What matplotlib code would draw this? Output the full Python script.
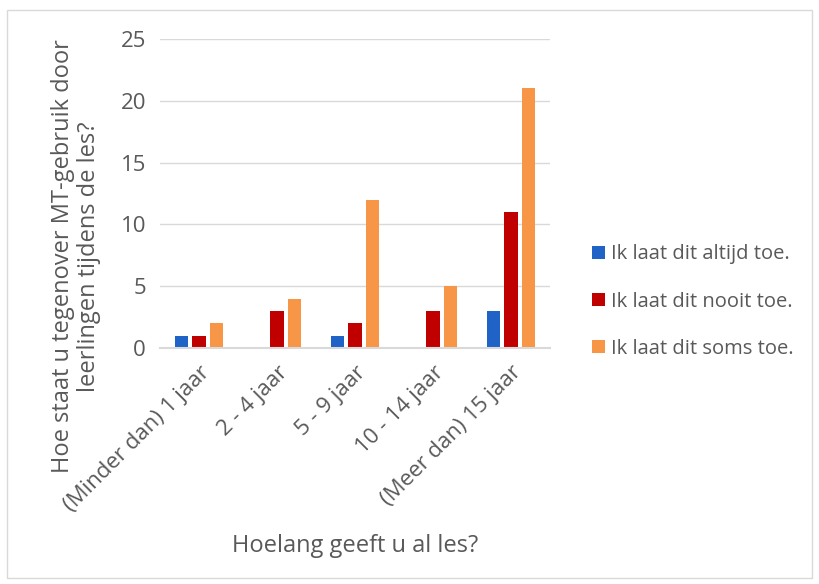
import numpy as np
import matplotlib.pyplot as plt
from matplotlib.patches import Rectangle

categories = ['(Minder dan) 1 jaar', '2 - 4 jaar', '5 - 9 jaar', '10 - 14 jaar', '(Meer dan) 15 jaar']
altijd = [1, 0, 1, 0, 3]
nooit = [1, 3, 2, 3, 11]
soms = [2, 4, 12, 5, 21]
series_names = ['Ik laat dit altijd toe.', 'Ik laat dit nooit toe.', 'Ik laat dit soms toe.']
colors = ['#1F63C6', '#C00000', '#F79646']

plt.rcParams['font.family'] = ['Open Sans', 'DejaVu Sans']
text_color = '#595959'

fig = plt.figure(figsize=(8.19, 5.84), dpi=100)
fig.patches.append(Rectangle((7 / 819, 6 / 584), 805 / 819, 568 / 584,
                             transform=fig.transFigure, fill=False,
                             edgecolor='#D9D9D9', linewidth=1))
ax = fig.add_axes([160 / 819, 1 - 348 / 584, 390 / 819, 309 / 584])

x = np.arange(len(categories))
width = 0.17
step = 0.22
for i, (vals, name, c) in enumerate(zip([altijd, nooit, soms], series_names, colors)):
    ax.bar(x + (i - 1) * step, vals, width, color=c, label=name, zorder=3)

ax.set_xlim(-0.5, len(categories) - 0.5)
ax.set_ylim(0, 25)
ax.set_yticks(range(0, 26, 5))
ax.yaxis.grid(True, color='#D9D9D9', linewidth=1)
ax.set_axisbelow(True)
for s in ['top', 'right', 'left']:
    ax.spines[s].set_visible(False)
ax.spines['bottom'].set_color('#D9D9D9')
ax.spines['bottom'].set_linewidth(1.5)
ax.spines['bottom'].set_zorder(4)
ax.tick_params(length=0, labelsize=16, colors=text_color, pad=10)
ax.set_xticks(x)
ax.set_xticklabels(categories, rotation=45, ha='right', rotation_mode='anchor')

ax.set_xlabel('Hoelang geeft u al les?', fontsize=17, color=text_color, labelpad=13)
ax.set_ylabel('Hoe staat u tegenover MT-gebruik door\nleerlingen tijdens de les?',
              fontsize=17, color=text_color, linespacing=1.1)
ax.yaxis.set_label_coords(-0.152, 0.296)

leg = ax.legend(loc='center left', bbox_to_anchor=(1.062, 0.15), frameon=False,
                fontsize=14.5, handlelength=0.65, handleheight=0.65,
                handletextpad=0.3, labelspacing=1.35)
for t in leg.get_texts():
    t.set_color(text_color)

fig.savefig('out.png', dpi=100)
